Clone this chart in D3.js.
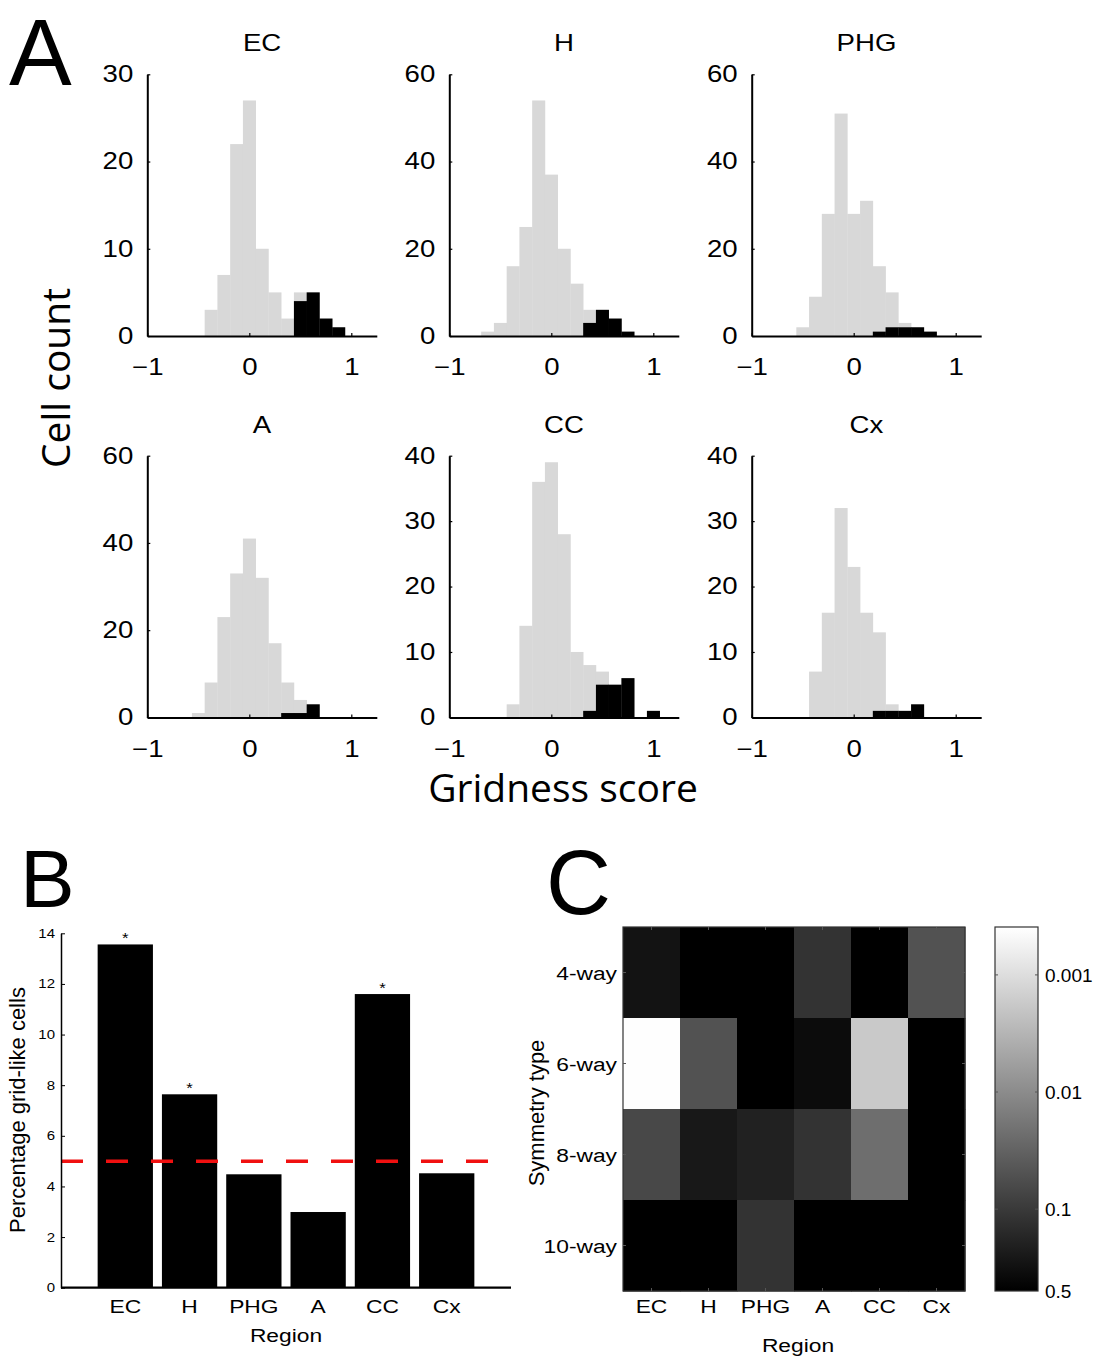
<!DOCTYPE html>
<html><head><meta charset="utf-8">
<script src="https://cdn.jsdelivr.net/npm/d3@7"></script>
<style>body{margin:0;background:#fff}</style>
</head><body><svg id="chart" width="1100" height="1357"></svg>
<script>
// ---------------- DATA ----------------
const regions = ["EC", "H", "PHG", "A", "CC", "Cx"];
const binCenters = [-0.875, -0.75, -0.625, -0.5, -0.375, -0.25, -0.125, 0, 0.125, 0.25, 0.375, 0.5, 0.625, 0.75, 0.875, 1.0];
const binWidth = 0.125;
// all cells (grey) and grid-like cells (black) per region
const ecAll   = [0, 0, 0, 0, 3, 7, 22, 27, 10, 5, 2, 5, 5, 2, 1, 0];
const ecGrid  = [0, 0, 0, 0, 0, 0, 0, 0, 0, 0, 0, 4, 5, 2, 1, 0];
const hAll    = [0, 0, 1, 3, 16, 25, 54, 37, 20, 12, 6, 6, 4, 1, 0, 0];
const hGrid   = [0, 0, 0, 0, 0, 0, 0, 0, 0, 0, 3, 6, 4, 1, 0, 0];
const phgAll  = [0, 0, 0, 2, 9, 28, 51, 28, 31, 16, 10, 3, 2, 1, 0, 0];
const phgGrid = [0, 0, 0, 0, 0, 0, 0, 0, 0, 1, 2, 2, 2, 1, 0, 0];
const aAll    = [0, 0, 0, 1, 8, 23, 33, 41, 32, 17, 8, 4, 3, 0, 0, 0];
const aGrid   = [0, 0, 0, 0, 0, 0, 0, 0, 0, 0, 1, 1, 3, 0, 0, 0];
const ccAll   = [0, 0, 0, 0, 2, 14, 36, 39, 28, 10, 8, 7, 5, 6, 0, 1];
const ccGrid  = [0, 0, 0, 0, 0, 0, 0, 0, 0, 0, 1, 5, 5, 6, 0, 1];
const cxAll   = [0, 0, 0, 0, 7, 16, 32, 23, 16, 13, 2, 1, 2, 0, 0, 0];
const cxGrid  = [0, 0, 0, 0, 0, 0, 0, 0, 0, 1, 1, 1, 2, 0, 0, 0];
const histYMax = [30, 60, 60, 60, 40, 40];
const histYTicks = [[0, 10, 20, 30], [0, 20, 40, 60], [0, 20, 40, 60], [0, 20, 40, 60], [0, 10, 20, 30, 40], [0, 10, 20, 30, 40]];
const histXTicks = [-1, 0, 1];
const histXDomain = [-1, 1.25];

// Panel B
const pctGridLike = [13.56, 7.64, 4.48, 2.99, 11.6, 4.52];
const significant = [true, true, false, false, true, false];
const chanceLevel = 5;
const pctTicks = [0, 2, 4, 6, 8, 10, 12, 14];

// Panel C (p-values; rows = symmetry types, columns = regions)
const symmetryTypes = ["4-way", "6-way", "8-way", "10-way"];
const p4way  = [0.29, 0.5, 0.5, 0.12, 0.5, 0.05];
const p6way  = [0.0004, 0.05, 0.5, 0.36, 0.0018, 0.5];
const p8way  = [0.066, 0.255, 0.2, 0.12, 0.023, 0.5];
const p10way = [0.5, 0.5, 0.12, 0.5, 0.5, 0.5];
const cbarTicks = [0.001, 0.01, 0.1, 0.5];
const cbarDomain = [0.5, 0.00039];

// ---------------- DRAWING ----------------
const svg = d3.select("#chart");
svg.append("rect").attr("width", 1100).attr("height", 1357).attr("fill", "#fff");
const SX = 1.2;
const HELV = "'Liberation Sans', Arial, Helvetica, sans-serif";
const MYR = "'Open Sans', 'Noto Sans', sans-serif";

function addText(parent, x, y, str, o) {
  const t = parent.append("text")
    .attr("transform", `translate(${x},${y}) scale(${o.sx || 1},1)` + (o.rotate ? ` rotate(${o.rotate})` : ""))
    .attr("text-anchor", o.anchor || "middle")
    .style("font-family", o.family || HELV)
    .style("font-size", o.size + "px")
    .attr("fill", o.fill || "#000")
    .text(str);
  if (o.dy) t.attr("dy", o.dy);
  return t;
}

// ----- Panel A -----
const allSeries = [ecAll, hAll, phgAll, aAll, ccAll, cxAll];
const gridSeries = [ecGrid, hGrid, phgGrid, aGrid, ccGrid, cxGrid];
const colX = [147.3, 449.3, 751.7];
const rowTop = [74.3, 455.7];
const plotW = 229.5, plotH = 261.7;

regions.forEach((name, i) => {
  const x0 = colX[i % 3], y0 = rowTop[Math.floor(i / 3)];
  const g = svg.append("g").attr("transform", `translate(${x0},${y0})`);
  const x = d3.scaleLinear().domain(histXDomain).range([0, plotW]);
  const y = d3.scaleLinear().domain([0, histYMax[i]]).range([plotH, 0]);
  const bw = x(binWidth) - x(0);
  const bins = binCenters.map((c, k) => ({c, all: allSeries[i][k], grid: gridSeries[i][k]}));
  g.selectAll("rect.all").data(bins.filter(d => d.all > 0)).join("rect")
    .attr("x", d => x(d.c) - bw / 2).attr("width", bw + 0.3)
    .attr("y", d => y(d.all)).attr("height", d => y(0) - y(d.all))
    .attr("fill", "#d8d8d8");
  g.selectAll("rect.grid").data(bins.filter(d => d.grid > 0)).join("rect")
    .attr("x", d => x(d.c) - bw / 2).attr("width", bw + 0.3)
    .attr("y", d => y(d.grid)).attr("height", d => y(0) - y(d.grid))
    .attr("fill", "#000");
  const ya = g.append("g").call(d3.axisLeft(y).tickValues(histYTicks[i]).tickSize(-3).tickSizeOuter(0).tickPadding(14));
  const xa = g.append("g").attr("transform", `translate(0,${plotH})`)
    .call(d3.axisBottom(x).tickValues(histXTicks).tickSize(-3).tickSizeOuter(0).tickPadding(23).tickFormat(d3.format("d")));
  [ya, xa].forEach(a => {
    a.select(".domain").attr("stroke", "#000").attr("stroke-width", 2);
    a.selectAll(".tick line").attr("stroke", "#000").attr("stroke-width", 1.2);
    a.selectAll("text").style("font-family", HELV).style("font-size", "23px").attr("fill", "#000");
  });
  ya.selectAll("text").attr("x", -14 / SX).attr("transform", `scale(${SX},1)`);
  xa.selectAll("text").attr("transform", `scale(${SX},1)`);
  addText(svg, x0 + plotW / 2, y0 - 23, name, {size: 23, sx: SX});
});
addText(svg, 70, 378, "Cell count", {size: 39, family: MYR, rotate: -90});
addText(svg, 563, 802, "Gridness score", {size: 39, family: MYR});
addText(svg, 9, 85, "A", {size: 94, anchor: "start"});

// ----- Panel B -----
const bx = d3.scaleLinear().domain([0, 7]).range([61, 511]);
const by = d3.scaleLinear().domain([0, 14]).range([1287.7, 933.3]);
const barW = 0.86;
const gB = svg.append("g");
gB.selectAll("rect").data(pctGridLike).join("rect")
  .attr("x", (d, i) => bx(i + 1 - barW / 2)).attr("width", bx(barW) - bx(0))
  .attr("y", d => by(d)).attr("height", d => by(0) - by(d)).attr("fill", "#000");
gB.append("line").attr("x1", bx(0)).attr("x2", bx(7)).attr("y1", by(chanceLevel)).attr("y2", by(chanceLevel))
  .attr("stroke", "#f01010").attr("stroke-width", 3.5).attr("stroke-dasharray", "22,23");
const byAxis = gB.append("g").attr("transform", `translate(${bx(0)},0)`)
  .call(d3.axisLeft(by).tickValues(pctTicks).tickSize(-4).tickSizeOuter(0).tickPadding(6));
byAxis.select(".domain").attr("stroke", "#000").attr("stroke-width", 1.5);
byAxis.selectAll(".tick line").attr("stroke", "#000");
byAxis.selectAll("text").style("font-family", HELV).style("font-size", "12.5px").attr("fill", "#000")
  .attr("x", -6 / SX).attr("transform", `scale(${SX},1)`);
gB.append("line").attr("x1", bx(0)).attr("x2", bx(7)).attr("y1", by(0)).attr("y2", by(0)).attr("stroke", "#000").attr("stroke-width", 2.2);
regions.forEach((r, i) => {
  addText(gB, bx(i + 1), 1313, r, {size: 19, sx: SX});
  if (significant[i]) addText(gB, bx(i + 1), by(pctGridLike[i]) - 1, "*", {size: 14, sx: SX});
});
addText(gB, 286, 1342, "Region", {size: 19, sx: SX});
addText(gB, 25, 1110, "Percentage grid-like cells", {size: 22, rotate: -90});
addText(svg, 20, 907, "B", {size: 82, anchor: "start"});

// ----- Panel C -----
const pRows = [p4way, p6way, p8way, p10way];
const cx = d3.scaleBand().domain(regions).range([623, 965]);
const cy = d3.scaleBand().domain(symmetryTypes).range([927, 1291]);
const gray = d3.scaleLog().domain(cbarDomain).range([0, 1]).clamp(true);
const cellColor = p => { const v = Math.round(gray(p) * 255); return d3.rgb(v, v, v).toString(); };
const gC = svg.append("g");
const cells = [];
pRows.forEach((row, ri) => row.forEach((p, ci) => cells.push({r: symmetryTypes[ri], c: regions[ci], p})));
gC.selectAll("rect.cell").data(cells).join("rect")
  .attr("x", d => cx(d.c)).attr("y", d => cy(d.r))
  .attr("width", cx.bandwidth() + 0.5).attr("height", cy.bandwidth() + 0.5)
  .attr("fill", d => cellColor(d.p));
gC.append("rect").attr("x", 623).attr("y", 927).attr("width", 342).attr("height", 364)
  .attr("fill", "none").attr("stroke", "#333").attr("stroke-width", 1.2);
regions.forEach(r => {
  const xc = cx(r) + cx.bandwidth() / 2;
  gC.append("line").attr("x1", xc).attr("x2", xc).attr("y1", 927).attr("y2", 930).attr("stroke", "#555");
  gC.append("line").attr("x1", xc).attr("x2", xc).attr("y1", 1291).attr("y2", 1288).attr("stroke", "#555");
  addText(gC, xc, 1313, r, {size: 19, sx: SX});
});
symmetryTypes.forEach(s => {
  const yc = cy(s) + cy.bandwidth() / 2;
  gC.append("line").attr("x1", 623).attr("x2", 626).attr("y1", yc).attr("y2", yc).attr("stroke", "#555");
  gC.append("line").attr("x1", 965).attr("x2", 962).attr("y1", yc).attr("y2", yc).attr("stroke", "#555");
  addText(gC, 617, yc + 7, s, {size: 19, sx: SX, anchor: "end"});
});
addText(gC, 798, 1352, "Region", {size: 19, sx: SX});
addText(gC, 544, 1113, "Symmetry type", {size: 22, rotate: -90});

// colorbar
const cb = d3.scaleLog().domain(cbarDomain).range([1291, 927]);
const defs = svg.append("defs");
const grad = defs.append("linearGradient").attr("id", "cbgrad").attr("x1", 0).attr("y1", 1).attr("x2", 0).attr("y2", 0);
grad.append("stop").attr("offset", "0%").attr("stop-color", "#000");
grad.append("stop").attr("offset", "100%").attr("stop-color", "#fff");
gC.append("rect").attr("x", 995).attr("y", 927).attr("width", 43).attr("height", 364)
  .attr("fill", "url(#cbgrad)").attr("stroke", "#333").attr("stroke-width", 1.2);
cbarTicks.forEach(t => {
  const yy = cb(t);
  if (t !== 0.5) {
    gC.append("line").attr("x1", 995).attr("x2", 998).attr("y1", yy).attr("y2", yy).attr("stroke", "#555");
    gC.append("line").attr("x1", 1038).attr("x2", 1035).attr("y1", yy).attr("y2", yy).attr("stroke", "#555");
  }
  addText(gC, 1045, yy + 7, String(t), {size: 19, sx: 1.0, anchor: "start"});
});
addText(svg, 546, 914, "C", {size: 90, anchor: "start"});
</script>
</body></html>
